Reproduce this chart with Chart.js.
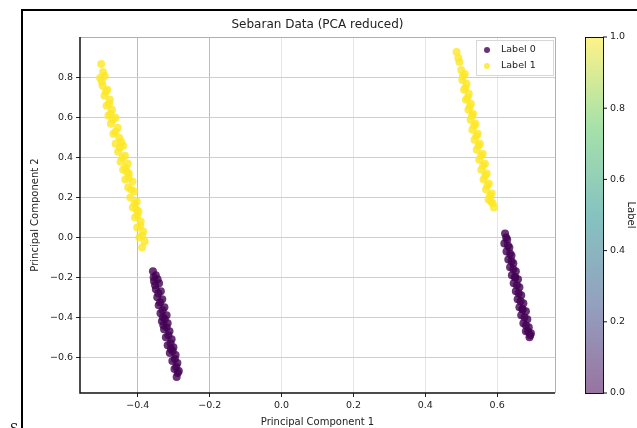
<!DOCTYPE html>
<html lang="en">
  <head>
    <meta charset="UTF-8" />
    <title>Sebaran Data (PCA reduced)</title>
    <script src="https://cdn.jsdelivr.net/npm/chart.js"></script>
    <style>
      html, body { margin: 0; padding: 0; background: #fff; }
      #wrap { width: 637px; height: 428px; }
    </style>
  </head>
  <body>
    <div id="wrap"><canvas id="myChart" width="637" height="428"></canvas></div>

    <script>
      // Label 0 (purple) points: x = PC1, y = PC2
      const label0X = [
        -0.358, -0.35, -0.355, -0.341, -0.35, -0.336, -0.346, -0.332, -0.342, -0.326,
        -0.337, -0.32, -0.333, -0.317, -0.327, -0.312, -0.322, -0.306, -0.317, -0.301,
        -0.311, -0.295, -0.304, -0.29, -0.298, -0.286, -0.292, -0.345, -0.33, -0.308,
        -0.352, -0.343, -0.338, -0.331, -0.325, -0.32, -0.315, -0.309, -0.303, -0.297,
        -0.293, -0.289, -0.356, -0.329,
        0.622, 0.628, 0.62, 0.634, 0.626, 0.64, 0.631, 0.645, 0.636, 0.652,
        0.641, 0.658, 0.646, 0.662, 0.652, 0.667, 0.657, 0.673, 0.662, 0.68,
        0.667, 0.684, 0.673, 0.688, 0.68, 0.694, 0.69, 0.65, 0.671,
        0.625, 0.63, 0.636, 0.64, 0.645, 0.65, 0.655, 0.66, 0.665, 0.67,
        0.676, 0.68, 0.686, 0.692
      ];
      const label0Y = [
        -0.17, -0.19, -0.22, -0.23, -0.26, -0.27, -0.3, -0.31, -0.34, -0.35,
        -0.38, -0.39, -0.42, -0.43, -0.46, -0.47, -0.5, -0.51, -0.54, -0.55,
        -0.58, -0.59, -0.62, -0.63, -0.66, -0.67, -0.7, -0.21, -0.4, -0.56,
        -0.24, -0.28, -0.325, -0.365, -0.41, -0.45, -0.49, -0.53, -0.57, -0.61,
        -0.65, -0.68, -0.2, -0.44,
        0.02, -0.01, -0.03, -0.05, -0.07, -0.09, -0.11, -0.13, -0.15, -0.17,
        -0.19, -0.21, -0.23, -0.25, -0.27, -0.29, -0.31, -0.33, -0.35, -0.37,
        -0.39, -0.41, -0.43, -0.45, -0.47, -0.48, -0.5, -0.2, -0.36,
        0.0, -0.04, -0.08, -0.12, -0.16, -0.2, -0.24, -0.28, -0.32, -0.36,
        -0.4, -0.44, -0.47, -0.49
      ];

      // Label 1 (yellow) points
      const label1X = [
        -0.502, -0.505, -0.492, -0.498, -0.485, -0.493, -0.478, -0.487, -0.472, -0.482,
        -0.462, -0.475, -0.456, -0.468, -0.452, -0.462, -0.441, -0.455, -0.436, -0.448,
        -0.428, -0.441, -0.425, -0.435, -0.415, -0.427, -0.41, -0.421, -0.403, -0.414,
        -0.398, -0.408, -0.392, -0.402, -0.385, -0.396, -0.381, -0.388,
        -0.497, -0.489, -0.48, -0.47, -0.462, -0.45, -0.443, -0.434, -0.426, -0.418,
        -0.409, -0.401, -0.393, -0.388, -0.5, -0.476, -0.446, -0.431, -0.404,
        0.487, 0.495, 0.5, 0.51, 0.503, 0.515, 0.508, 0.521, 0.513, 0.527,
        0.52, 0.533, 0.526, 0.54, 0.531, 0.546, 0.537, 0.552, 0.543, 0.56,
        0.55, 0.566, 0.556, 0.571, 0.562, 0.577, 0.569, 0.585, 0.576, 0.588, 0.591,
        0.492, 0.505, 0.512, 0.518, 0.524, 0.53, 0.536, 0.542, 0.548, 0.555,
        0.561, 0.567, 0.573, 0.58, 0.583
      ];
      const label1Y = [
        0.87, 0.8, 0.81, 0.76, 0.74, 0.71, 0.69, 0.66, 0.64, 0.61,
        0.6, 0.57, 0.55, 0.52, 0.5, 0.47, 0.46, 0.43, 0.41, 0.38,
        0.37, 0.34, 0.32, 0.29, 0.28, 0.25, 0.23, 0.2, 0.18, 0.15,
        0.13, 0.1, 0.08, 0.05, 0.03, 0.0, -0.02, -0.05,
        0.83, 0.73, 0.67, 0.59, 0.53, 0.45, 0.4, 0.35, 0.3, 0.24,
        0.17, 0.11, 0.06, 0.01, 0.78, 0.62, 0.48, 0.33, 0.14,
        0.93, 0.88, 0.84, 0.82, 0.79, 0.77, 0.74, 0.72, 0.69, 0.67,
        0.64, 0.62, 0.59, 0.57, 0.54, 0.52, 0.49, 0.47, 0.44, 0.42,
        0.39, 0.37, 0.34, 0.32, 0.29, 0.27, 0.24, 0.22, 0.19, 0.17, 0.15,
        0.9, 0.81, 0.75, 0.7, 0.655, 0.61, 0.56, 0.51, 0.46, 0.41,
        0.36, 0.31, 0.26, 0.21, 0.18
      ];

      const seriesNames = ["Label 0", "Label 1"];
      const xTicks = [-0.4, -0.2, 0.0, 0.2, 0.4, 0.6];
      const yTicks = [-0.6, -0.4, -0.2, 0.0, 0.2, 0.4, 0.6, 0.8];
      const colorbarTicks = [0.0, 0.2, 0.4, 0.6, 0.8, 1.0];

      const viridis = ["#440154", "#3b528b", "#21918c", "#5ec962", "#fde725"];
      const font = "'DejaVu Sans', sans-serif";

      const fmt = (v) => {
        const s = Math.abs(v).toFixed(1);
        return v < -1e-9 ? "\u2212" + s : s;
      };

      const toPoints = (xs, ys) => xs.map((x, i) => ({ x: x, y: ys[i] }));

      // title, legend box, colorbar, frame
      const extras = {
        id: "extras",
        afterDraw(chart) {
          const ctx = chart.ctx;
          const a = chart.chartArea;
          ctx.save();

          // light top/right spines, dark left/bottom
          ctx.lineWidth = 1;
          ctx.strokeStyle = "#b0b0b0";
          ctx.beginPath();
          ctx.moveTo(a.left, a.top + 0.5);
          ctx.lineTo(a.right + 0.5, a.top + 0.5);
          ctx.lineTo(a.right + 0.5, a.bottom);
          ctx.stroke();
          ctx.strokeStyle = "#111";
          ctx.lineWidth = 1.5;
          ctx.beginPath();
          ctx.moveTo(a.left, a.top);
          ctx.lineTo(a.left, a.bottom);
          ctx.lineTo(a.right, a.bottom);
          ctx.stroke();

          // title
          ctx.fillStyle = "#222";
          ctx.font = "12px " + font;
          ctx.textAlign = "center";
          ctx.textBaseline = "middle";
          ctx.fillText("Sebaran Data (PCA reduced)", (a.left + a.right) / 2, 25);

          // legend
          const lx = 476, ly = 40, lw = 77, lh = 35;
          ctx.fillStyle = "rgba(255,255,255,0.85)";
          ctx.strokeStyle = "#d8d8d8";
          ctx.lineWidth = 1;
          ctx.fillRect(lx, ly, lw, lh);
          ctx.strokeRect(lx + 0.5, ly + 0.5, lw, lh);
          ctx.font = "9.5px " + font;
          ctx.textAlign = "left";
          chart.data.datasets.forEach((ds, i) => {
            const yy = ly + 10 + i * 16;
            ctx.fillStyle = ds.backgroundColor;
            ctx.beginPath();
            ctx.arc(lx + 11, yy, 3, 0, Math.PI * 2);
            ctx.fill();
            ctx.fillStyle = "#222";
            ctx.fillText(ds.label, lx + 25, yy);
          });

          // colorbar
          const cx = 585, cw = 18, ct = a.top, cb = a.bottom;
          const g = ctx.createLinearGradient(0, cb, 0, ct);
          viridis.forEach((c, i) => g.addColorStop(i / (viridis.length - 1), c));
          ctx.globalAlpha = 0.55;
          ctx.fillStyle = g;
          ctx.fillRect(cx, ct, cw, cb - ct);
          ctx.globalAlpha = 1;
          ctx.strokeStyle = "#111";
          ctx.lineWidth = 1;
          ctx.strokeRect(cx + 0.5, ct + 0.5, cw, cb - ct);
          ctx.font = "9.5px " + font;
          ctx.fillStyle = "#222";
          ctx.textAlign = "left";
          colorbarTicks.forEach((v) => {
            const yy = cb - v * (cb - ct);
            ctx.beginPath();
            ctx.moveTo(cx + cw, yy);
            ctx.lineTo(cx + cw + 4, yy);
            ctx.stroke();
            ctx.fillText(v.toFixed(1), cx + cw + 7, yy);
          });
          ctx.translate(631, (ct + cb) / 2);
          ctx.rotate(Math.PI / 2);
          ctx.textAlign = "center";
          ctx.font = "10px " + font;
          ctx.fillText("Label", 0, 0);
          ctx.restore();

          // outer frame
          ctx.save();
          ctx.strokeStyle = "#000";
          ctx.lineWidth = 2;
          ctx.beginPath();
          ctx.moveTo(22, 428);
          ctx.lineTo(22, 10);
          ctx.lineTo(637, 10);
          ctx.stroke();
          ctx.fillStyle = "#000";
          ctx.font = "12px 'DejaVu Serif', serif";
          ctx.textAlign = "left";
          ctx.textBaseline = "alphabetic";
          ctx.fillText("S", 10, 433);
          ctx.restore();
        },
      };

      const ctx = document.getElementById("myChart").getContext("2d");

      new Chart(ctx, {
        type: "scatter",
        data: {
          datasets: [
            {
              label: seriesNames[0],
              data: toPoints(label0X, label0Y),
              backgroundColor: "rgba(68, 1, 84, 0.8)",
              borderColor: "rgba(68, 1, 84, 0.8)",
              pointRadius: 4,
              borderWidth: 0,
            },
            {
              label: seriesNames[1],
              data: toPoints(label1X, label1Y),
              backgroundColor: "rgba(253, 231, 37, 0.8)",
              borderColor: "rgba(253, 231, 37, 0.8)",
              pointRadius: 4,
              borderWidth: 0,
            },
          ],
        },
        options: {
          responsive: false,
          animation: false,
          layout: { padding: { left: 22, top: 37, right: 82, bottom: 0 } },
          scales: {
            x: {
              type: "linear",
              min: -0.561,
              max: 0.761,
              afterBuildTicks: (s) => { s.ticks = xTicks.map((v) => ({ value: v })); },
              afterFit: (s) => { s.height = 35; },
              border: { display: false },
              grid: {
                color: (c) => (c.tick && c.tick.value < -0.1 ? "#bdbdbd" : "#e6e6e6"),
                tickColor: "#222",
                tickLength: 4,
                lineWidth: 1,
              },
              ticks: {
                color: "#222",
                padding: 3,
                font: { family: font, size: 9.5 },
                callback: (v) => fmt(v),
              },
              title: {
                display: true,
                text: "Principal Component 1",
                color: "#222",
                font: { family: font, size: 10 },
                padding: { top: 2, bottom: 0 },
              },
            },
            y: {
              type: "linear",
              min: -0.78,
              max: 1.005,
              afterBuildTicks: (s) => { s.ticks = yTicks.map((v) => ({ value: v })); },
              afterFit: (s) => { s.width = 58; },
              border: { display: false },
              grid: {
                color: "#cfcfcf",
                tickColor: "#222",
                tickLength: 4,
                lineWidth: 1,
              },
              ticks: {
                color: "#222",
                padding: 3,
                font: { family: font, size: 9.5 },
                callback: (v) => fmt(v),
              },
              title: {
                display: true,
                text: "Principal Component 2",
                color: "#222",
                font: { family: font, size: 10 },
                padding: { top: 7, bottom: 0 },
              },
            },
          },
          plugins: {
            legend: { display: false },
            tooltip: { enabled: false },
          },
        },
        plugins: [extras],
      });
    </script>
  </body>
</html>
